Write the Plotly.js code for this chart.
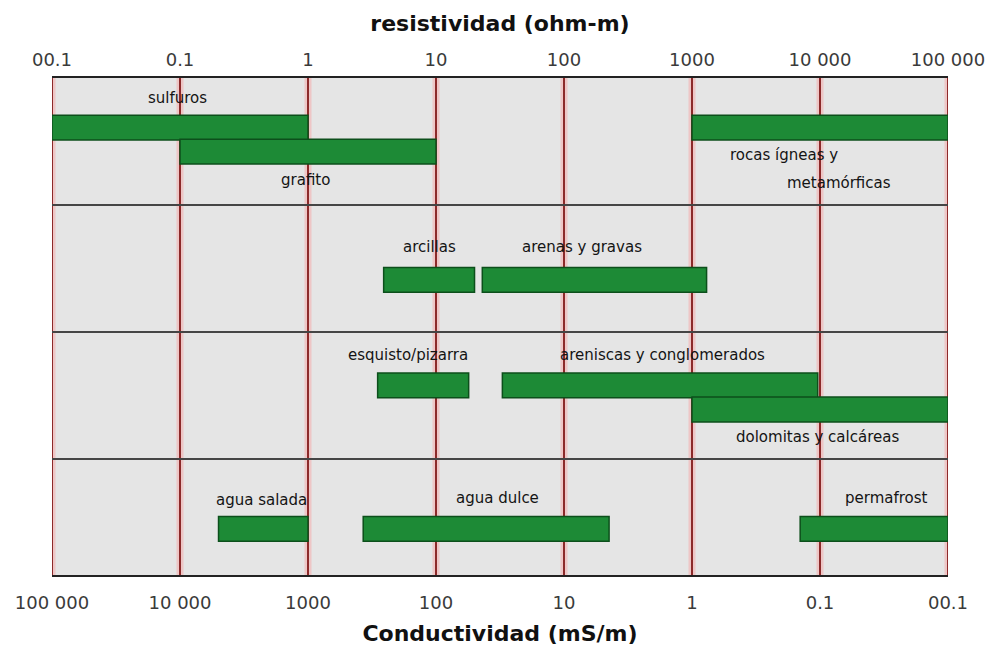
<!DOCTYPE html>
<html>
<head>
<meta charset="utf-8">
<script src="https://cdn.plot.ly/plotly-3.0.1.min.js"></script>
<style>html,body{margin:0;padding:0;background:#fff;}#chart{width:990px;height:646px;}</style>
</head>
<body>
<div id="chart"></div>
<script>
// ---- data ----
const decades = [0.01, 0.1, 1, 10, 100, 1000, 10000, 100000];
const resistTickText = ["00.1", "0.1", "1", "10", "100", "1000", "10 000", "100 000"];
const conductVals = [100000, 10000, 1000, 100, 10, 1, 0.1, 0.01];
const conductTickText = ["100 000", "10 000", "1000", "100", "10", "1", "0.1", "00.1"];

const materials = ["sulfuros", "grafito", "rocas ígneas y metamórficas", "arcillas", "arenas y gravas",
  "esquisto/pizarra", "areniscas y conglomerados", "dolomitas y calcáreas",
  "agua salada", "agua dulce", "permafrost"];
const rhoMin = [0.01, 0.1, 1000, 3.9, 23, 3.5, 33, 1000, 0.2, 2.7, 7000];
const rhoMax = [1, 10, 100000, 20, 1300, 18, 9600, 100000, 1, 225, 100000];
const rowPos = [0.39, 0.58, 0.39, 1.59, 1.59, 2.42, 2.42, 2.61, 3.55, 3.55, 3.55];
const rowDividers = [1, 2, 3];

// ---- label placement (log10 of resistivity, row units) ----
const labelText = ["sulfuros", "grafito", "rocas ígneas y", "metamórficas", "arcillas", "arenas y gravas",
  "esquisto/pizarra", "areniscas y conglomerados", "dolomitas y calcáreas", "agua salada", "agua dulce", "permafrost"];
const labelX = [-1.02, -0.02, 3.28, 3.73, 0.95, 2.14, 0.78, 2.77, 3.98, -0.36, 1.48, 4.52];
const labelY = [0.16, 0.80, 0.61, 0.83, 1.33, 1.33, 2.18, 2.18, 2.83, 3.32, 3.31, 3.31];
const labelAnchor = ["center", "center", "left", "left", "center", "center", "center", "center", "center", "center", "center", "center"];

const barTrace = {
  type: "bar", orientation: "h",
  y: rowPos,
  base: rhoMin,
  x: rhoMax.map((v, i) => v - rhoMin[i]),
  width: rowPos.map(() => 0.195),
  text: materials, hoverinfo: "text", textposition: "none",
  marker: {color: "#1d8a36", line: {color: "#0c4f1b", width: 1.5}},
  xaxis: "x", yaxis: "y", showlegend: false
};
const ghost = {
  type: "scatter", mode: "markers", x: conductVals, y: conductVals.map(() => 0),
  marker: {opacity: 0}, xaxis: "x2", yaxis: "y", showlegend: false, hoverinfo: "skip"
};

const shapes = [];
decades.forEach(d => {
  shapes.push({type: "line", xref: "x", yref: "paper", x0: d, x1: d, y0: 0, y1: 1,
    line: {color: "rgba(255,140,140,0.35)", width: 7}, layer: "below"});
  shapes.push({type: "line", xref: "x", yref: "paper", x0: d, x1: d, y0: 0, y1: 1,
    line: {color: "#8c2a2a", width: 2}, layer: "below"});
});

const annotations = labelText.map((t, i) => ({
  text: t, x: labelX[i], y: labelY[i], xref: "x", yref: "y", showarrow: false,
  xanchor: labelAnchor[i], yanchor: "middle",
  font: {family: "DejaVu Sans", size: 15, color: "#141414"}
}));

const tickFont = {family: "DejaVu Sans", size: 18, color: "#3a3a3a"};
const titleFont = {family: "DejaVu Sans", size: 22, color: "#111", weight: "bold"};

const layout = {
  width: 990, height: 646,
  margin: {l: 52, r: 42, t: 78, b: 71},
  paper_bgcolor: "#ffffff", plot_bgcolor: "#e5e5e5",
  barmode: "overlay",
  xaxis: {
    type: "log", side: "top", range: [-2, 5], fixedrange: true,
    tickvals: decades, ticktext: resistTickText, tickfont: tickFont,
    ticks: "", ticklabelstandoff: 3, showgrid: false, zeroline: false,
    showline: true, linecolor: "#222", linewidth: 2, mirror: true,
    title: {text: "resistividad (ohm-m)", font: titleFont, standoff: 11}
  },
  xaxis2: {
    type: "log", side: "bottom", overlaying: "x", range: [5, -2], fixedrange: true,
    tickvals: conductVals, ticktext: conductTickText, tickfont: tickFont,
    ticks: "", ticklabelstandoff: 15, showgrid: false, zeroline: false, showline: false,
    title: {text: "Conductividad (mS/m)", font: titleFont, standoff: 13}
  },
  yaxis: {
    range: [3.913, 0], fixedrange: true,
    tickvals: rowDividers, showticklabels: false, ticks: "",
    showgrid: true, gridcolor: "#454545", gridwidth: 2, zeroline: false,
    showline: false
  },
  shapes: shapes,
  annotations: annotations
};

Plotly.newPlot("chart", [barTrace, ghost], layout, {displayModeBar: false, staticPlot: true});
</script>
</body>
</html>
